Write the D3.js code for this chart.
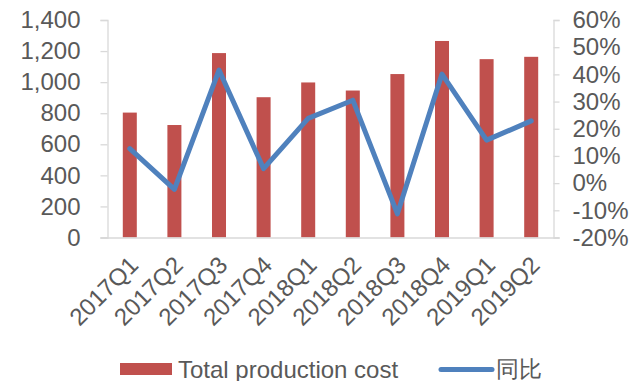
<!DOCTYPE html>
<html>
<head>
<meta charset="utf-8">
<script src="https://cdn.jsdelivr.net/npm/d3@7"></script>
<style>
  html, body { margin: 0; padding: 0; background: #fff; }
  svg { display: block; }
  text { font-family: "Liberation Sans", Arial, sans-serif; fill: #595959; }
</style>
</head>
<body>
<svg id="chart" width="643" height="381"></svg>
<script>
// Quarterly total production cost (bars, left axis) and year-on-year change (line, right axis)
const quarters = ["2017Q1","2017Q2","2017Q3","2017Q4","2018Q1","2018Q2","2018Q3","2018Q4","2019Q1","2019Q2"];
const productionCost = [804, 724, 1187, 903, 998, 946, 1052, 1265, 1148, 1163];
const yoyChange = [0.127, -0.023, 0.416, 0.053, 0.238, 0.305, -0.113, 0.401, 0.158, 0.229];
const leftTicks = [0, 200, 400, 600, 800, 1000, 1200, 1400];
const rightTicks = [-0.2, -0.1, 0, 0.1, 0.2, 0.3, 0.4, 0.5, 0.6];
const legendLabels = ["Total production cost", "同比"];

const svg = d3.select("#chart");
const plot = { left: 107.5, right: 553.5, top: 20, bottom: 237.5 };
const axisColor = "#d9d9d9";
const barColor = "#c0504d";
const lineColor = "#4f81bd";
const fontSize = 24;

const x = d3.scaleBand().domain(quarters).range([plot.left, plot.right]).paddingInner(0.686).paddingOuter(0.343);
const yLeft = d3.scaleLinear().domain([0, 1400]).range([plot.bottom, plot.top]);
const yRight = d3.scaleLinear().domain([-0.2, 0.6]).range([plot.bottom, plot.top]);

// Percent labels with a plain hyphen for negatives
const pct = d => d3.format(".0f")(d * 100).replace("−", "-") + "%";

// Bars
svg.append("g").selectAll("rect").data(productionCost).join("rect")
  .attr("x", (d, i) => x(quarters[i]))
  .attr("width", x.bandwidth())
  .attr("y", d => yLeft(d))
  .attr("height", d => yLeft(0) - yLeft(d))
  .attr("fill", barColor);

// Left axis
const leftAxis = svg.append("g").attr("transform", `translate(${plot.left},0)`)
  .call(d3.axisLeft(yLeft).tickValues(leftTicks).tickSize(7).tickPadding(20).tickFormat(d3.format(",")));
// Right axis
const rightAxis = svg.append("g").attr("transform", `translate(${plot.right},0)`)
  .call(d3.axisRight(yRight).tickValues(rightTicks).tickSize(6).tickPadding(13).tickFormat(pct));
[leftAxis, rightAxis].forEach(g => {
  g.select(".domain").attr("stroke", axisColor).attr("stroke-width", 1.3);
  g.selectAll(".tick line").attr("stroke", axisColor).attr("stroke-width", 1.3);
  g.selectAll(".tick text").attr("font-size", fontSize).attr("fill", "#595959")
    .attr("font-family", '"Liberation Sans", Arial, sans-serif');
});

// Category axis
const bottomAxis = svg.append("g").attr("transform", `translate(0,${plot.bottom})`)
  .call(d3.axisBottom(x).tickSize(0).tickSizeOuter(0));
bottomAxis.select(".domain").attr("stroke", axisColor).attr("stroke-width", 1.3)
  .attr("d", `M${plot.left - 7},0.5H${plot.right + 6}`);
bottomAxis.selectAll(".tick text")
  .attr("font-size", fontSize).attr("fill", "#595959")
  .attr("font-family", '"Liberation Sans", Arial, sans-serif')
  .attr("text-anchor", "end")
  .attr("dominant-baseline", "central")
  .attr("dy", null)
  .attr("y", 0)
  .attr("transform", "translate(4,23) rotate(-45)");

// YoY line
const line = d3.line()
  .x((d, i) => x(quarters[i]) + x.bandwidth() / 2)
  .y(d => yRight(d));
svg.append("path").datum(yoyChange)
  .attr("d", line)
  .attr("fill", "none")
  .attr("stroke", lineColor)
  .attr("stroke-width", 5)
  .attr("stroke-linejoin", "round")
  .attr("stroke-linecap", "round");

// Legend
const legend = svg.append("g");
legend.append("rect").attr("x", 120).attr("y", 363).attr("width", 52).attr("height", 12).attr("fill", barColor);
legend.append("text").attr("x", 178).attr("y", 369).attr("dominant-baseline", "central")
  .attr("font-size", fontSize).text(legendLabels[0]);
legend.append("line").attr("x1", 441).attr("x2", 492).attr("y1", 369.5).attr("y2", 369.5)
  .attr("stroke", lineColor).attr("stroke-width", 5).attr("stroke-linecap", "round");
legend.append("text").attr("x", 496).attr("y", 369).attr("dominant-baseline", "central")
  .attr("font-size", 23).attr("font-family", '"Noto Sans CJK SC", sans-serif').text(legendLabels[1]);
</script>
</body>
</html>
